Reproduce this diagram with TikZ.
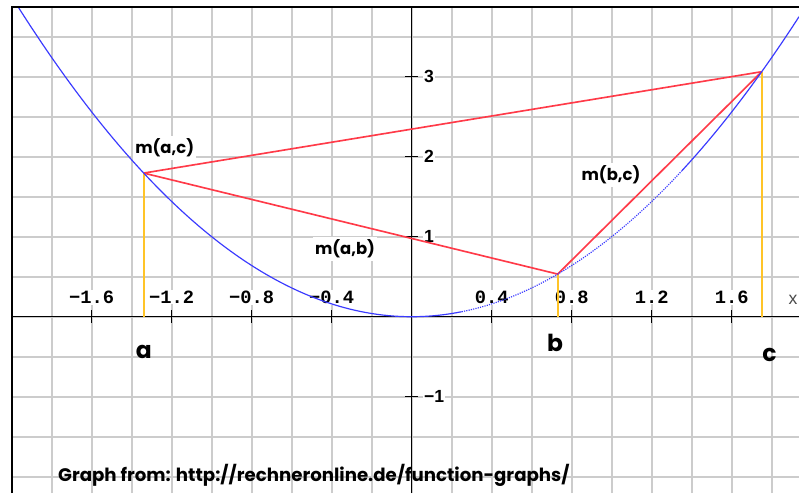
\documentclass[tikz,border=0pt]{standalone}
\usepackage{fontspec}
\newfontfamily\geofont{Poppins}
\newfontfamily\tickfont{Liberation Mono}
\newfontfamily\numfont{Liberation Sans}
\definecolor{gridgray}{HTML}{CCCCCC}
\definecolor{curveblue}{HTML}{3A3AFF}
\definecolor{chordred}{HTML}{FF3A48}
\definecolor{droporange}{HTML}{FFC428}
\def\xa{-1.34}
\def\xb{0.73}
\def\xc{1.75}

\begin{document}
\begin{tikzpicture}[x=6cm, y=2.4cm,
    gridline/.style={gridgray, line width=1.5pt},
    axis/.style={black, line width=1.2pt},
    curve/.style={curveblue, line width=1pt},
    chord/.style={chordred, line width=1.4pt},
    drop/.style={droporange, line width=1.4pt},
    xtick/.style={fill=white, inner sep=1pt, anchor=base, font=\tickfont\bfseries\fontsize{16}{16}\selectfont},
    ytick/.style={fill=white, inner sep=1pt, anchor=west, font=\numfont\bfseries\fontsize{15}{15}\selectfont},
    chordlabel/.style={fill=white, inner sep=2pt, font=\geofont\bfseries\fontsize{14}{14}\selectfont},
    pointlabel/.style={anchor=base, inner sep=0pt, font=\geofont\bfseries\fontsize{20}{20}\selectfont}
]
\useasboundingbox (-2.0585,-2.204) rectangle (1.9365,3.959);
\fill[white] (-2.0585,-2.204) rectangle (1.9365,3.959);

\begin{scope}
\clip (-2.0,-2.204) rectangle (1.9365,3.871);
\foreach \gx in {-1.8,-1.6,...,1.81}
    \draw[gridline] (\gx,-2.204) -- (\gx,3.871);
\foreach \gy in {-2,-1.5,...,3.6}
    \draw[gridline] (-2.0,\gy) -- (1.9365,\gy);
\end{scope}

\draw[axis] (-2.0,0) -- (1.9365,0);
\draw[axis] (0,-2.204) -- (0,3.871);
\foreach \t in {-1.6,-1.2,-0.8,-0.4,0.4,0.8,1.2,1.6}
    \draw[axis] (\t,-0.08) -- (\t,0.08);
\foreach \t in {-1,1,2,3}
    \draw[axis] (-0.0325,\t) -- (0.0325,\t);

\foreach \t/\lab [count=\i] in {-1.6/−1.6,-1.2/−1.2,-0.8/−0.8,-0.4/−0.4,0.4/0.4,0.8/0.8,1.2/1.2,1.6/1.6}
    \node[xtick] (xlab\i) at (\t,0.1675) {\lab};
\node[ytick] (ylab3) at (0.055,3) {3};
\node[ytick] (ylab2) at (0.055,2) {2};
\node[ytick] (ylab1) at (0.055,1) {1};
\node[ytick] (ylabm1) at (0.055,-1) {−1};
\node[font=\numfont\fontsize{15}{15}\selectfont, text=black!70] (xname) at (1.9065,0.2087) {x};

\coordinate (A) at (\xa,{(\xa)*(\xa)});
\coordinate (B) at (\xb,{(\xb)*(\xb)});
\coordinate (C) at (\xc,{(\xc)*(\xc)});
\coordinate (A0) at (\xa,0);
\coordinate (B0) at (\xb,0);
\coordinate (C0) at (\xc,0);

\draw[drop] (A) -- (A0);
\draw[drop] (B) -- (B0);
\draw[drop] (C) -- (C0);

\draw[chord] (A) -- (C);
\draw[chord] (A) -- (B);
\draw[chord] (B) -- (C);

\draw[curve] plot[domain=-1.9675:0.25, samples=80] (\x,{\x*\x});
\draw[curve, densely dotted] plot[domain=0.25:1.35, samples=50] (\x,{\x*\x});
\draw[curve] plot[domain=1.35:1.9365, samples=30] (\x,{\x*\x});

\node[chordlabel] (mac) at (-1.235,2.109) {m(a,c)};
\node[chordlabel] (mab) at (-0.3335,0.846) {m(a,b)};
\node[chordlabel] (mbc) at (0.9965,1.771) {m(b,c)};

\node[pointlabel] (alab) at (-1.339,-0.516) {a};
\node[pointlabel] (blab) at (0.717,-0.4375) {b};
\node[pointlabel] (clab) at (1.789,-0.5625) {c};

\node[anchor=base west, inner sep=0pt, font=\geofont\bfseries\fontsize{15.5}{15.5}\selectfont] (source) at (-1.7685,-2.0625) {Graph from: http://rechneronline.de/function-graphs/};

\draw[black, line width=1.7pt] (-2.0,-2.204) -- (-2.0,3.871) -- (1.9365,3.871);
\end{tikzpicture}
\end{document}
